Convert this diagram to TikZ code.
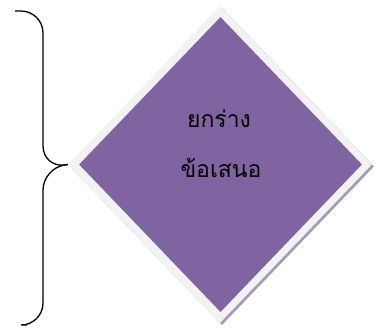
\documentclass[tikz,border=0pt]{standalone}
\usepackage{fontspec}
\newfontfamily\thaifont[Script=Thai]{Loma}
\usetikzlibrary{shapes.geometric}
\definecolor{dmpurple}{HTML}{8064A2}
\definecolor{dmframe}{HTML}{F2F2F2}
\definecolor{dmshadow}{HTML}{A49BB4}

\begin{document}
\begin{tikzpicture}[
  x=1pt,y=-1pt,
  gem/.style={diamond,draw=none,inner sep=0pt},
  brace/.style={line width=1.3pt,rounded corners=22pt},
  label/.style={font=\thaifont\fontsize{23}{28}\selectfont,align=center}
]
  \useasboundingbox (0,0) rectangle (374,327);
  % shadow, frame and face of the diamond
  \node[gem,fill=dmshadow,minimum width=304pt,minimum height=317pt] (shadow) at (222,166.5) {};
  \node[gem,fill=dmframe,minimum width=304pt,minimum height=317pt] (frame) at (220,164.5) {};
  \node[gem,fill=dmpurple,minimum width=283pt,minimum height=295pt] (face) at (220.5,164.5) {};
  \node[label] (top) at (219,119) {ยกร่าง};
  \node[label] (bottom) at (221,168) {ข้อเสนอ};
  % brace on the left
  \coordinate (tip) at (frame.west);
  \coordinate (upper) at (15,11);
  \coordinate (lower) at (27,325);
  \draw[brace] (upper) -- (43,11) -- (43,168) -- (tip);
  \draw[brace] (tip) -- (43,168) -- (43,325) -- (lower);
\end{tikzpicture}
\end{document}
